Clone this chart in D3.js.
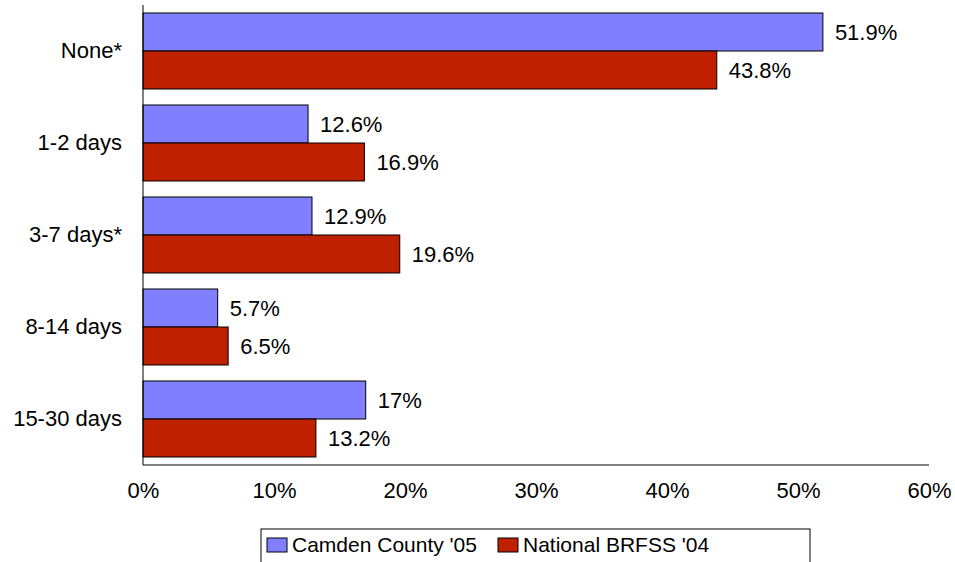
<!DOCTYPE html>
<html>
<head>
<meta charset="utf-8">
<script src="https://cdn.jsdelivr.net/npm/d3@7"></script>
<style>
  body { margin: 0; background: #fff; }
  text { font-family: "Liberation Sans", Arial, sans-serif; fill: #000; }
</style>
</head>
<body>
<div id="chart"></div>
<script>
// categories and series
let categories = ["None*", "1-2 days", "3-7 days*", "8-14 days", "15-30 days"];
let camden = [51.9, 12.6, 12.9, 5.7, 17];
let national = [43.8, 16.9, 19.6, 6.5, 13.2];
let camdenLabels = ["51.9%", "12.6%", "12.9%", "5.7%", "17%"];
let nationalLabels = ["43.8%", "16.9%", "19.6%", "6.5%", "13.2%"];
let seriesNames = ["Camden County '05", "National BRFSS '04"];
let xTicks = [0, 10, 20, 30, 40, 50, 60];

let width = 955; //width of the svg
let height = 562; //height of the svg
let colors = ["#8080ff", "#bf2000"];
let fontSize = "22px";

let svg = d3.select("#chart")
    .append("svg")
    .attr("width", width)
    .attr("height", height);

// scales
const x = d3.scaleLinear().domain([0, 60]).range([143, 929]);
const y = d3.scaleBand().domain(categories).range([5, 465]).paddingInner(0.174).paddingOuter(0.087);
const sub = d3.scaleBand().domain([0, 1]).range([0, y.bandwidth()]);

const rows = categories.map((c, i) => ({
    cat: c,
    vals: [camden[i], national[i]],
    labels: [camdenLabels[i], nationalLabels[i]]
}));

// bars
const group = svg.append("g")
    .selectAll("g")
    .data(rows)
    .join("g")
    .attr("transform", d => `translate(0,${y(d.cat)})`);

group.selectAll("rect")
    .data(d => d.vals.map((v, k) => ({ v: v, k: k })))
    .join("rect")
    .attr("x", x(0))
    .attr("y", d => sub(d.k))
    .attr("width", d => x(d.v) - x(0))
    .attr("height", sub.bandwidth())
    .attr("fill", d => colors[d.k])
    .attr("stroke", "#000")
    .attr("stroke-width", 1);

// value labels
group.selectAll("text")
    .data(d => d.vals.map((v, k) => ({ v: v, k: k, t: d.labels[k] })))
    .join("text")
    .attr("x", d => x(d.v) + 12)
    .attr("y", d => sub(d.k) + sub.bandwidth() / 2)
    .attr("dy", "0.36em")
    .style("font-size", fontSize)
    .text(d => d.t);

// y axis (category labels, no ticks)
const yAxis = svg.append("g")
    .attr("transform", `translate(${x(0)},0)`)
    .call(d3.axisLeft(y).tickSize(0).tickPadding(21));
yAxis.select(".domain").attr("stroke", "#000").attr("d", `M0,5V465`);
yAxis.selectAll("text").style("font-size", fontSize)
    .attr("font-family", null);

// x axis
const xAxis = svg.append("g")
    .attr("transform", "translate(0,465)")
    .call(d3.axisBottom(x).tickValues(xTicks).tickSize(0).tickPadding(17).tickFormat(d => d + "%"));
xAxis.select(".domain").attr("stroke", "#000").attr("d", `M${x(0)},0H${x(60)}`);
xAxis.selectAll("text").style("font-size", fontSize).attr("font-family", null);

// legend
const legend = svg.append("g");
legend.append("rect")
    .attr("x", 261).attr("y", 529)
    .attr("width", 549).attr("height", 50)
    .attr("fill", "#fff")
    .attr("stroke", "#000");

const legendX = [267, 498];
seriesNames.forEach((name, i) => {
    legend.append("rect")
        .attr("x", legendX[i]).attr("y", 538)
        .attr("width", 20).attr("height", 14)
        .attr("fill", colors[i])
        .attr("stroke", "#000");
    legend.append("text")
        .attr("x", legendX[i] + 25).attr("y", 552)
        .style("font-size", "21px")
        .text(name);
});
</script>
</body>
</html>
